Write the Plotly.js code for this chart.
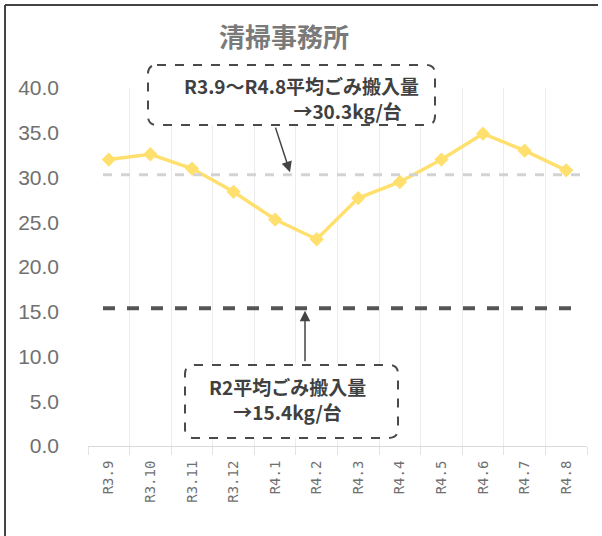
<!DOCTYPE html>
<html>
<head>
<meta charset="utf-8">
<script src="https://cdn.plot.ly/plotly-3.0.1.min.js"></script>
<style>html,body{margin:0;padding:0;background:#fff;}#chart{width:602px;height:536px;}</style>
</head>
<body>
<div id="chart"></div>
<script>
// ---- data ----
const months = ["R3.9","R3.10","R3.11","R3.12","R4.1","R4.2","R4.3","R4.4","R4.5","R4.6","R4.7","R4.8"];
const wastePerVehicle = [32.0, 32.6, 31.0, 28.4, 25.3, 23.1, 27.7, 29.5, 32.0, 34.9, 33.0, 30.8];
const avgR3R4 = 30.3;
const avgR2 = 15.4;
const chartTitle = "清掃事務所";
const note1 = ["R3.9～R4.8平均ごみ搬入量", "→30.3kg/台"];
const note2 = ["R2平均ごみ搬入量", "→15.4kg/台"];

// ---- layout helpers (pixel -> paper) ----
const W = 602, H = 536, L = 88, R = 15, T = 88, B = 90;
const PW = W - L - R, PH = H - T - B;
const px = X => (X - L) / PW;
const py = Y => (H - B - Y) / PH;
function roundRect(x0, y0, x1, y1, r) {
  const p = (X, Y) => px(X).toFixed(5) + "," + py(Y).toFixed(5);
  return "M" + p(x0 + r, y0) + " L" + p(x1 - r, y0) + " Q" + p(x1, y0) + " " + p(x1, y0 + r) +
    " L" + p(x1, y1 - r) + " Q" + p(x1, y1) + " " + p(x1 - r, y1) +
    " L" + p(x0 + r, y1) + " Q" + p(x0, y1) + " " + p(x0, y1 - r) +
    " L" + p(x0, y0 + r) + " Q" + p(x0, y0) + " " + p(x0 + r, y0) + " Z";
}

const textFont = {family: "Noto Sans CJK JP, sans-serif", size: 19, color: "#404040", weight: "bold"};

const traces = [{
  type: "scatter",
  mode: "lines+markers",
  x: months,
  y: wastePerVehicle,
  line: {color: "#FFE06E", width: 3.5},
  marker: {symbol: "diamond", size: 11, color: "#FFE06E"},
  hoverinfo: "x+y"
}];

const layout = {
  width: W, height: H,
  margin: {l: L, r: R, t: T, b: B},
  paper_bgcolor: "#ffffff",
  plot_bgcolor: "#ffffff",
  showlegend: false,
  title: {
    text: "<b>" + chartTitle + "</b>",
    x: 284 / W, xanchor: "center",
    y: 1 - 38 / H, yanchor: "middle",
    font: {family: "Noto Sans CJK JP, sans-serif", size: 26, color: "#7a7a7a"}
  },
  xaxis: {
    type: "category",
    range: [-0.5, 11.5],
    tickson: "boundaries",
    showgrid: true,
    gridcolor: "#ececec",
    gridwidth: 1,
    ticks: "outside",
    ticklen: 8,
    tickcolor: "#e2e2e2",
    showline: true,
    linecolor: "#d9d9d9",
    linewidth: 1,
    tickangle: -90,
    ticklabelstandoff: 8,
    tickfont: {family: "DejaVu Sans Mono, monospace", size: 14, color: "#707070"},
    zeroline: false,
    fixedrange: true
  },
  yaxis: {
    range: [0, 40],
    tick0: 0, dtick: 5,
    tickformat: ".1f",
    showgrid: false,
    zeroline: false,
    showline: false,
    ticks: "",
    ticklabelstandoff: 28,
    tickfont: {family: "Liberation Sans, Arial, sans-serif", size: 21, color: "#707070"},
    fixedrange: true
  },
  shapes: [
    // outer frame (top & left)
    {type: "line", xref: "paper", yref: "paper", x0: px(5), x1: px(598), y0: py(5), y1: py(5), line: {color: "#444", width: 2}},
    {type: "line", xref: "paper", yref: "paper", x0: px(5), x1: px(5), y0: py(5), y1: py(540), line: {color: "#444", width: 2}},
    // average lines
    {type: "line", xref: "paper", yref: "y", x0: px(103), x1: px(580), y0: avgR3R4, y1: avgR3R4, line: {color: "#d3d3d3", width: 3, dash: "dash"}},
    {type: "line", xref: "paper", yref: "y", x0: px(103), x1: px(580), y0: avgR2, y1: avgR2, line: {color: "#555555", width: 4, dash: "dash"}},
    // dashed rounded boxes
    {type: "path", xref: "paper", yref: "paper", path: roundRect(148, 65, 435, 125, 9), line: {color: "#4a4a4a", width: 2, dash: "dash"}, fillcolor: "rgba(255,255,255,1)"},
    {type: "path", xref: "paper", yref: "paper", path: roundRect(185, 365, 398, 438, 9), line: {color: "#4a4a4a", width: 2, dash: "dash"}, fillcolor: "rgba(255,255,255,1)"}
  ],
  annotations: [
    {xref: "paper", yref: "paper", x: px(420), y: py(98), text: note1[0] + "<br>" + note1[1] + "&nbsp;&nbsp;&nbsp;&nbsp;",
     align: "right", showarrow: false, xanchor: "right", yanchor: "middle", font: textFont, borderpad: 0},
    {xref: "paper", yref: "paper", x: px(287), y: py(399), text: note2[0] + "<br>" + note2[1],
     align: "center", showarrow: false, xanchor: "center", yanchor: "middle", font: textFont, borderpad: 0},
    // arrows
    {xref: "paper", yref: "y", x: px(290), y: avgR3R4 + 0.3, ax: -15, ay: -46, text: "", showarrow: true, arrowhead: 2, arrowsize: 1.4, arrowwidth: 1.5, arrowcolor: "#444"},
    {xref: "paper", yref: "y", x: px(305), y: avgR2 - 0.3, ax: 0, ay: 52, text: "", showarrow: true, arrowhead: 2, arrowsize: 1.4, arrowwidth: 1.5, arrowcolor: "#444"}
  ]
};

Plotly.newPlot("chart", traces, layout, {displayModeBar: false, staticPlot: true});
</script>
</body>
</html>
